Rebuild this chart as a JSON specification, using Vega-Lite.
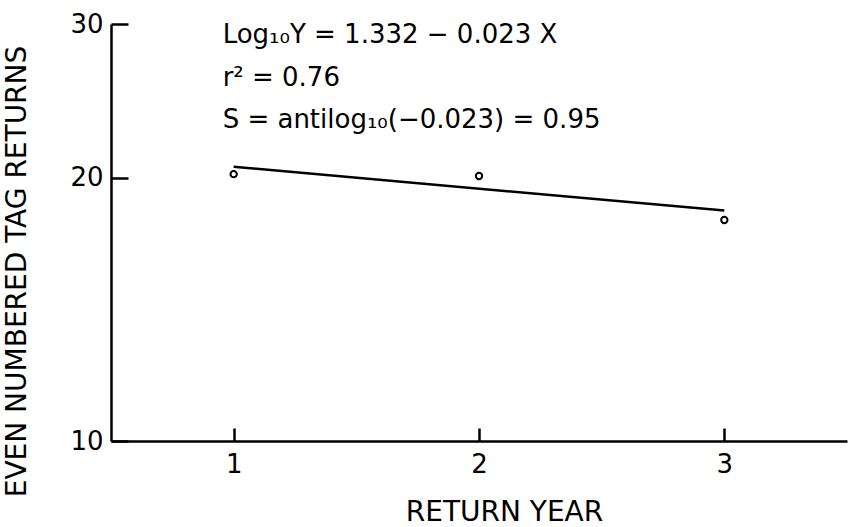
{
  "$schema": "https://vega.github.io/schema/vega-lite/v6.json",
  "width": 736,
  "height": 417,
  "autosize": {"type": "none"},
  "padding": {"left": 111, "top": 24, "right": 6, "bottom": 86},
  "background": "white",
  "datasets": {
    "points": [
      {"year": 1, "returns": 20.2},
      {"year": 2, "returns": 20.1},
      {"year": 3, "returns": 17.9}
    ],
    "fit": [
      {"year": 1, "returns": 20.6},
      {"year": 3, "returns": 18.35}
    ],
    "notes": [
      {"year": 0.955, "returns": 28.5, "label": "Log₁₀Y = 1.332 − 0.023 X"},
      {"year": 0.955, "returns": 25.5, "label": "r² = 0.76"},
      {"year": 0.955, "returns": 22.8, "label": "S = antilog₁₀(−0.023) = 0.95"}
    ]
  },
  "config": {
    "view": {"stroke": null},
    "axis": {
      "grid": false,
      "domainColor": "black",
      "domainWidth": 2.5,
      "tickColor": "black",
      "tickWidth": 2.5,
      "labelFont": "DejaVu Sans",
      "labelFontSize": 26,
      "labelColor": "black",
      "titleFont": "DejaVu Sans",
      "titleFontSize": 28,
      "titleFontWeight": "normal",
      "titleColor": "black"
    }
  },
  "layer": [
    {
      "data": {"name": "fit"},
      "mark": {"type": "line", "color": "black", "strokeWidth": 2.5},
      "encoding": {
        "x": {
          "field": "year", "type": "quantitative",
          "scale": {"domain": [0.5, 3.5], "nice": false, "zero": false},
          "axis": {
            "values": [1, 2, 3], "format": "d", "title": "RETURN YEAR",
            "tickSize": -13, "labelPadding": 23,
            "titleX": 393, "titleY": 79, "titleBaseline": "alphabetic", "titleAlign": "center"
          }
        },
        "y": {
          "field": "returns", "type": "quantitative",
          "scale": {"type": "log", "domain": [10, 30], "nice": false},
          "axis": {
            "values": [10, 20, 30], "format": "d", "title": "EVEN NUMBERED TAG RETURNS",
            "tickSize": -17, "labelPadding": 25,
            "titleX": -94, "titleY": 247, "titleAngle": 270, "titleBaseline": "middle", "titleAlign": "center"
          }
        }
      }
    },
    {
      "data": {"name": "points"},
      "mark": {"type": "point", "shape": "circle", "size": 40, "stroke": "black", "strokeWidth": 2, "fill": "white", "filled": true, "opacity": 1},
      "encoding": {
        "x": {"field": "year", "type": "quantitative"},
        "y": {"field": "returns", "type": "quantitative"}
      }
    },
    {
      "data": {"name": "notes"},
      "mark": {"type": "text", "align": "left", "baseline": "alphabetic", "font": "DejaVu Sans", "fontSize": 26, "color": "black"},
      "encoding": {
        "x": {"field": "year", "type": "quantitative"},
        "y": {"field": "returns", "type": "quantitative"},
        "text": {"field": "label"}
      }
    }
  ]
}
